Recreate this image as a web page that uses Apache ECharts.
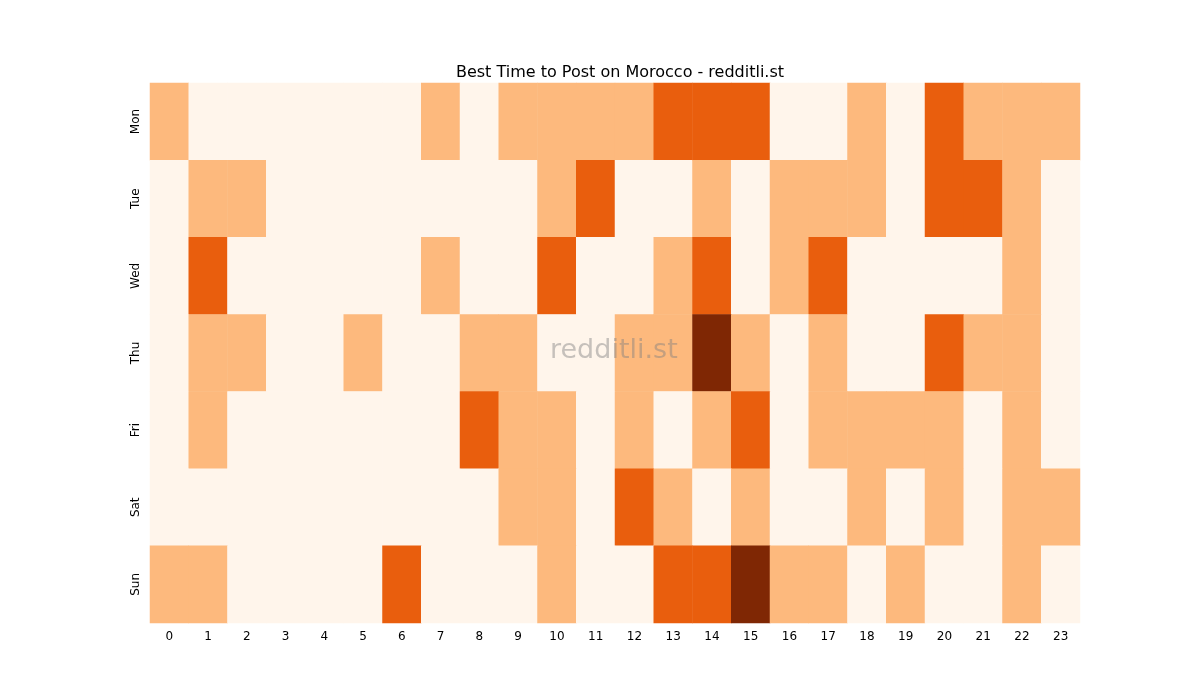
<!DOCTYPE html>
<html><head><meta charset="utf-8">
<script src="https://cdn.jsdelivr.net/npm/echarts@6/dist/echarts.min.js"></script>
<style>html,body{margin:0;background:#fff}#c{width:1200px;height:700px}</style>
</head><body><div id="c"></div>
<script>
const hours = ['0','1','2','3','4','5','6','7','8','9','10','11','12','13','14','15','16','17','18','19','20','21','22','23'];
const days = ['Mon','Tue','Wed','Thu','Fri','Sat','Sun'];
const Mon = [1,0,0,0,0,0,0,1,0,1,1,1,1,2,2,2,0,0,1,0,2,1,1,1];
const Tue = [0,1,1,0,0,0,0,0,0,0,1,2,0,0,1,0,1,1,1,0,2,2,1,0];
const Wed = [0,2,0,0,0,0,0,1,0,0,2,0,0,1,2,0,1,2,0,0,0,0,1,0];
const Thu = [0,1,1,0,0,1,0,0,1,1,0,0,1,1,3,1,0,1,0,0,2,1,1,0];
const Fri = [0,1,0,0,0,0,0,0,2,1,1,0,1,0,1,2,0,1,1,1,1,0,1,0];
const Sat = [0,0,0,0,0,0,0,0,0,1,1,0,2,1,0,1,0,0,1,0,1,0,1,1];
const Sun = [1,1,0,0,0,0,2,0,0,0,1,0,0,2,2,3,1,1,0,1,0,0,1,0];
const rows = [Mon,Tue,Wed,Thu,Fri,Sat,Sun];
const data = [];
rows.forEach((r,y)=>r.forEach((v,x)=>data.push([x,y,v])));
const chart = echarts.init(document.getElementById('c'));
chart.setOption({
  animation:false,
  title:{text:'Best Time to Post on Morocco - redditli.st',left:615,top:60,textAlign:'center',
    textStyle:{fontFamily:'DejaVu Sans',fontSize:16,fontWeight:'normal',color:'#000'}},
  graphic:[{type:'text',left:550,top:337,style:{text:'redditli.st',fontFamily:'DejaVu Sans',fontSize:27,fill:'rgba(128,128,128,0.45)'},z:100}],
  grid:{left:150,right:120,top:83,bottom:77},
  xAxis:{type:'category',data:hours,splitArea:{show:false},
    axisLine:{show:false},axisTick:{alignWithLabel:true,length:5,lineStyle:{color:'#000'}},
    axisLabel:{fontFamily:'DejaVu Sans',fontSize:12,color:'#000'}},
  yAxis:{type:'category',data:days,inverse:true,
    axisLine:{show:false},axisTick:{alignWithLabel:true,length:5,lineStyle:{color:'#000'}},
    axisLabel:{rotate:90,fontFamily:'DejaVu Sans',fontSize:12,color:'#000'}},
  visualMap:{show:false,type:'piecewise',dimension:2,pieces:[
    {value:0,color:'#fff5eb'},{value:1,color:'#fdb97d'},{value:2,color:'#e95e0d'},{value:3,color:'#7f2704'}]},
  series:[{type:'heatmap',data:data,itemStyle:{borderWidth:0}}]
});
</script></body></html>
